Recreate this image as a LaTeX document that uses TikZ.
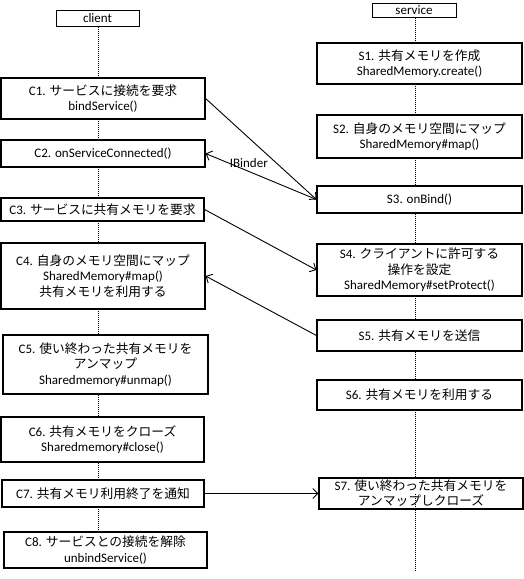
\documentclass[tikz,border=0pt]{standalone}
\usepackage{fontspec}
\setmainfont{Carlito}
\newfontfamily\jpfont{Noto Sans CJK JP}[Scale=0.98]
\usetikzlibrary{arrows.meta, positioning}
\newcommand{\jp}[1]{{\jpfont #1}}

\begin{document}
\begin{tikzpicture}[
    x=1pt, y=-1pt,
    >={Straight Barb[length=5pt, width=10pt]},
    every node/.style={font=\fontsize{13}{15.5}\selectfont},
    head/.style={rectangle, draw, line width=1pt, fill=white, inner sep=0pt},
    box/.style={rectangle, draw, line width=1.2pt, fill=white, inner sep=0pt, align=center},
    cbox/.style={box, minimum width=204pt},
    sbox/.style={box, minimum width=205pt},
    lifeline/.style={line width=1pt, dash pattern=on 1pt off 1pt},
    msg/.style={->, line width=0.9pt}
]
\useasboundingbox (0,0) rectangle (524,579);

% Lifelines
\node[head, minimum width=83pt, minimum height=16pt] (client) at (97.5,18) {client};
\node[head, minimum width=84pt, minimum height=14pt] (service) at (414,10) {service};
\coordinate (clend) at (98,532);
\coordinate (svend) at (415,570);
\draw[lifeline] (client.south -| clend) -- (clend);
\draw[lifeline] (service.south -| svend) -- (svend);

% Client
\node[cbox, minimum height=41pt] (c1) at (103,98.5) {C1. \jp{サービスに接続を要求}\\bindService()};
\node[cbox, minimum height=27pt] (c2) at (103,153.5) {C2. onServiceConnected()};
\node[cbox, minimum height=23pt, minimum width=203pt] (c3) at (102.5,209.5) {C3. \jp{サービスに共有メモリを要求}};
\node[cbox, minimum height=66pt] (c4) at (103,276) {C4. \jp{自身のメモリ空間にマップ}\\SharedMemory\#map()\\\jp{共有メモリを利用する}};
\node[cbox, minimum height=59pt, minimum width=205pt] (c5) at (105.5,364.5) {C5. \jp{使い終わった共有メモリを}\\\jp{アンマップ}\\Sharedmemory\#unmap()};
\node[cbox, minimum height=45pt, minimum width=203pt] (c6) at (102.5,439.5) {C6. \jp{共有メモリをクローズ}\\Sharedmemory\#close()};
\node[cbox, minimum height=27pt, minimum width=202pt] (c7) at (103,493.5) {C7. \jp{共有メモリ利用終了を通知}};
\node[cbox, minimum height=36pt, minimum width=203pt] (c8) at (105.5,550) {C8. \jp{サービスとの接続を解除}\\unbindService()};

% Service
\node[sbox, minimum height=41pt] (s1) at (419.5,63.5) {S1. \jp{共有メモリを作成}\\SharedMemory.create()};
\node[sbox, minimum height=43pt] (s2) at (419.5,136.5) {S2. \jp{自身のメモリ空間にマップ}\\SharedMemory\#map()};
\node[sbox, minimum height=27pt] (s3) at (419.5,199.5) {S3. onBind()};
\node[sbox, minimum height=52pt] (s4) at (419.5,270) {S4. \jp{クライアントに許可する}\\\jp{操作を設定}\\SharedMemory\#setProtect()};
\node[sbox, minimum height=31pt] (s5) at (419.5,335.5) {S5. \jp{共有メモリを送信}};
\node[sbox, minimum height=30pt] (s6) at (419.5,395) {S6. \jp{共有メモリを利用する}};
\node[sbox, minimum height=31pt, minimum width=204pt, font=\fontsize{13}{15}\selectfont] (s7) at (421,493.5) {S7. \jp{使い終わった共有メモリを}\\\jp{アンマップしクローズ}};
\draw[lifeline] (s7.center -| svend) -- (s7.south -| svend);

% Messages
\draw[msg] (c1.east) -- (s3.west);
\draw[msg] (s3.west) -- node[pos=0.61, above]{IBinder} (c2.east);
\draw[msg] (c3.east) -- (s4.west);
\draw[msg] (s5.west) -- (c4.east);
\draw[msg] (c7.east) -- (s7.west);

\end{tikzpicture}
\end{document}
